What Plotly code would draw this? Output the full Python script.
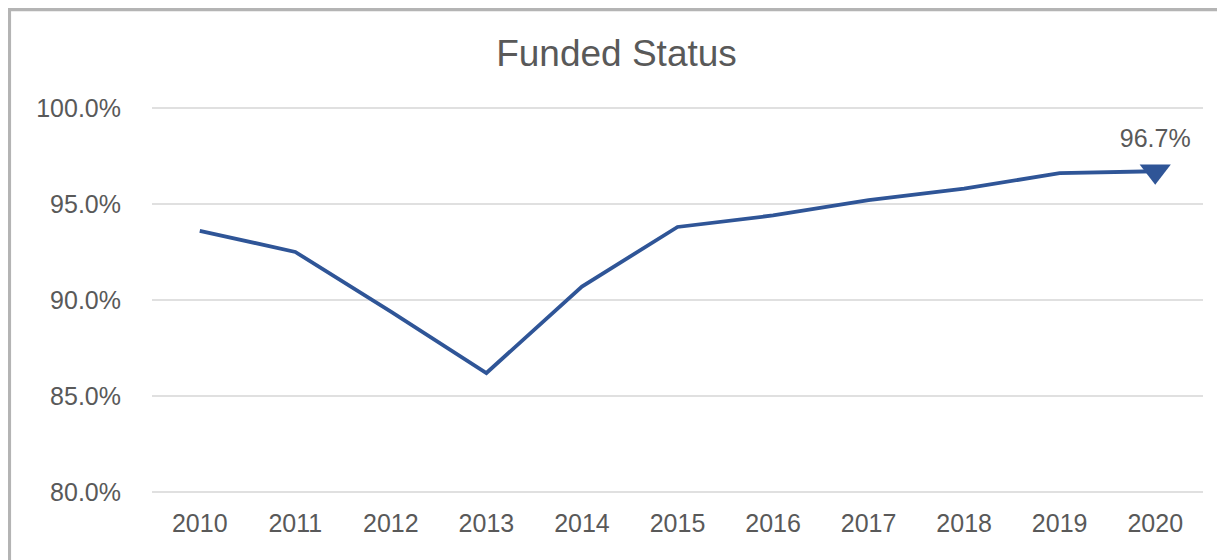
import plotly.graph_objects as go

# data
years = ["2010", "2011", "2012", "2013", "2014", "2015", "2016", "2017", "2018", "2019", "2020"]
funded_pct = [93.6, 92.5, 89.4, 86.2, 90.7, 93.8, 94.4, 95.2, 95.8, 96.6, 96.7]
y_ticks = [80, 85, 90, 95, 100]
y_tick_labels = ["80.0%", "85.0%", "90.0%", "95.0%", "100.0%"]

LINE_BLUE = "#2F5597"
TEXT_GREY = "#595959"
FONT = "Liberation Sans, Arial, sans-serif"

fig = go.Figure()
fig.add_trace(
    go.Scatter(
        x=years,
        y=funded_pct,
        mode="lines",
        line=dict(color=LINE_BLUE, width=3.8),
        hoverinfo="skip",
        showlegend=False,
    )
)
# marker + label on the latest year only
fig.add_trace(
    go.Scatter(
        x=[years[-1]],
        y=[funded_pct[-1]],
        mode="markers+text",
        marker=dict(symbol="triangle-down", size=27, color=LINE_BLUE),
        text=[f"{funded_pct[-1]:.1f}%"],
        textposition="top center",
        textfont=dict(size=25, color=TEXT_GREY, family=FONT),
        showlegend=False,
    )
)

# page body has an 8px margin, so the figure is a bit smaller than the window
fig.update_layout(
    width=1217,
    height=552,
    margin=dict(l=144, r=22, t=96, b=64),
    paper_bgcolor="white",
    plot_bgcolor="white",
    font=dict(family=FONT, color=TEXT_GREY, size=25),
    title=dict(
        text="Funded Status",
        x=0.5,
        xanchor="center",
        y=0.918,
        yanchor="middle",
        font=dict(size=37, color=TEXT_GREY, family=FONT),
    ),
    showlegend=False,
)
fig.update_xaxes(
    type="category",
    range=[-0.5, len(years) - 0.5],
    showgrid=False,
    showline=False,
    ticks="",
    ticklabelstandoff=10,
    tickfont=dict(size=25, color=TEXT_GREY),
)
# pad the range a little so the 80% and 100% gridlines are still drawn
fig.update_yaxes(
    range=[79.8, 100.2],
    tickvals=y_ticks,
    ticktext=y_tick_labels,
    showgrid=True,
    gridcolor="#E0E0E0",
    gridwidth=1.5,
    zeroline=False,
    showline=False,
    ticks="",
    ticklabelstandoff=30,
    tickfont=dict(size=25, color=TEXT_GREY),
)

# chart-area frame (top and left edges visible, rest runs off the image)
fig.add_shape(
    type="rect",
    xref="paper",
    yref="paper",
    x0=-0.136,
    x1=1.05,
    y0=-0.3,
    y1=1.242,
    line=dict(color="#B4B4B4", width=4),
    fillcolor="rgba(0,0,0,0)",
    layer="below",
)

fig.write_html("out.html")
